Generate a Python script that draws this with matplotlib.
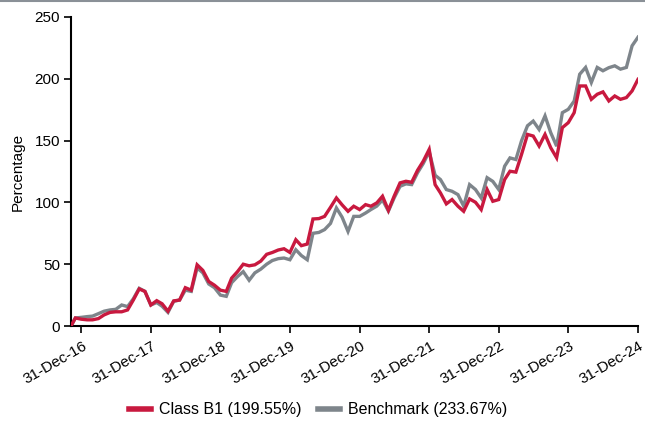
import matplotlib
matplotlib.use("Agg")
import matplotlib.pyplot as plt
import matplotlib.transforms as mtransforms
from matplotlib.lines import Line2D
import pandas as pd

start_date = "2016-11-07"
month_ends = pd.date_range("2016-11-30", "2024-12-31", freq="ME")
dates = [pd.Timestamp(start_date)] + list(month_ends)

class_b1 = [0,
    6.5, 5.5,
    5, 5, 6, 9, 11, 11.5, 11.5, 13, 21, 30, 28, 17,
    20.5, 18, 12, 20.3, 21, 31, 29, 49.5, 45, 36, 33, 29,
    28, 38.7, 44, 50, 48.7, 49.5, 52.5, 58, 59.5, 61.5, 62.5, 59.5,
    69.8, 65, 66.3, 86.6, 86.9, 88.7, 96, 103.6, 98, 92.8, 96.9, 94.2,
    98.2, 96.9, 99.6, 105, 93.6, 105, 115.8, 117.1, 116.3, 126, 133.4, 142.9,
    114.4, 107.7, 98.8, 102.3, 96.9, 92.8, 102.8, 100.1, 94.2, 110.4, 100.9, 102.3,
    118.5, 125.2, 124.5, 139, 155, 153.7, 145.6, 155, 144.2, 136.1, 160.5, 164.5,
    172.6, 194.2, 194.2, 183.4, 187.5, 189.4, 182.1, 186.1, 183.4, 184.8, 190.2, 199.55]

benchmark = [0,
    6.5, 7,
    7.6, 8, 10, 12, 13, 13.5, 17, 15.7, 22, 30.5, 28, 17,
    19, 16, 11, 20, 21, 29, 28, 47, 43, 34, 31, 25,
    24, 35, 40, 44, 37, 43, 46, 50, 53, 54.5, 55, 53.6,
    61.7, 57, 53.6, 75, 75.7, 78, 83, 95.5, 88, 76.5, 88.7, 88.7,
    91.4, 94.2, 97, 102, 93, 103.6, 113, 115, 114.4, 124, 131.5, 141,
    122, 118.5, 110.4, 109, 106.3, 97, 114.4, 110.4, 103.6, 120, 117, 110.4,
    129.3, 136, 134.7, 150, 162, 165.8, 159, 170, 156.4, 145.5, 172.6, 175.3,
    182, 203.7, 209.2, 197, 209.2, 206.5, 209, 210.5, 207.8, 209.2, 226.7, 233.67]

series_labels = ["Class B1 (199.55%)", "Benchmark (233.67%)"]
tick_dates = pd.date_range("2016-12-31", "2024-12-31", freq="YE")
tick_labels = [d.strftime("%d-%b-%y") for d in tick_dates]
y_ticks = [0, 50, 100, 150, 200, 250]

plt.rcParams['font.family'] = ['Liberation Sans', 'DejaVu Sans']

fig = plt.figure(figsize=(6.45, 4.21), dpi=100)
ax = fig.add_axes([71/645, 1-326/421, (638-71)/645, (326-17)/421])

red = "#C8193F"
grey = "#7E858B"
ax.plot(dates, benchmark, color=grey, lw=2.4, solid_joinstyle="miter", label=series_labels[1], zorder=2)
ax.plot(dates, class_b1, color=red, lw=2.4, solid_joinstyle="miter", label=series_labels[0], zorder=3)

ax.set_xlim(dates[0], dates[-1])
ax.set_ylim(0, 250)
ax.set_yticks(y_ticks)
ax.set_xticks(tick_dates)
ax.set_xticklabels(tick_labels, rotation=30, ha="right", rotation_mode="anchor")
ax.tick_params(axis="both", labelsize=11, length=5, width=1.2, color="black", pad=3)
ax.set_ylabel("Percentage", fontsize=11, labelpad=7)

offset = mtransforms.ScaledTranslation(1/100, -2/100, fig.dpi_scale_trans)
for lbl in ax.get_xticklabels():
    lbl.set_transform(lbl.get_transform() + offset)

for s in ["top", "right"]:
    ax.spines[s].set_visible(False)
for s in ["left", "bottom"]:
    ax.spines[s].set_linewidth(1.5)

handles = [Line2D([], [], color=red, lw=4), Line2D([], [], color=grey, lw=4)]
fig.legend(handles, series_labels, loc="lower center", bbox_to_anchor=(0.493, -0.025), ncol=2,
           frameon=False, fontsize=11.5, handlelength=1.4, columnspacing=1.0, handletextpad=0.5)

fig.add_artist(Line2D([0, 1], [0.998, 0.998], transform=fig.transFigure, color="#8A9097", lw=1.5))

fig.savefig("out.png", dpi=100)
